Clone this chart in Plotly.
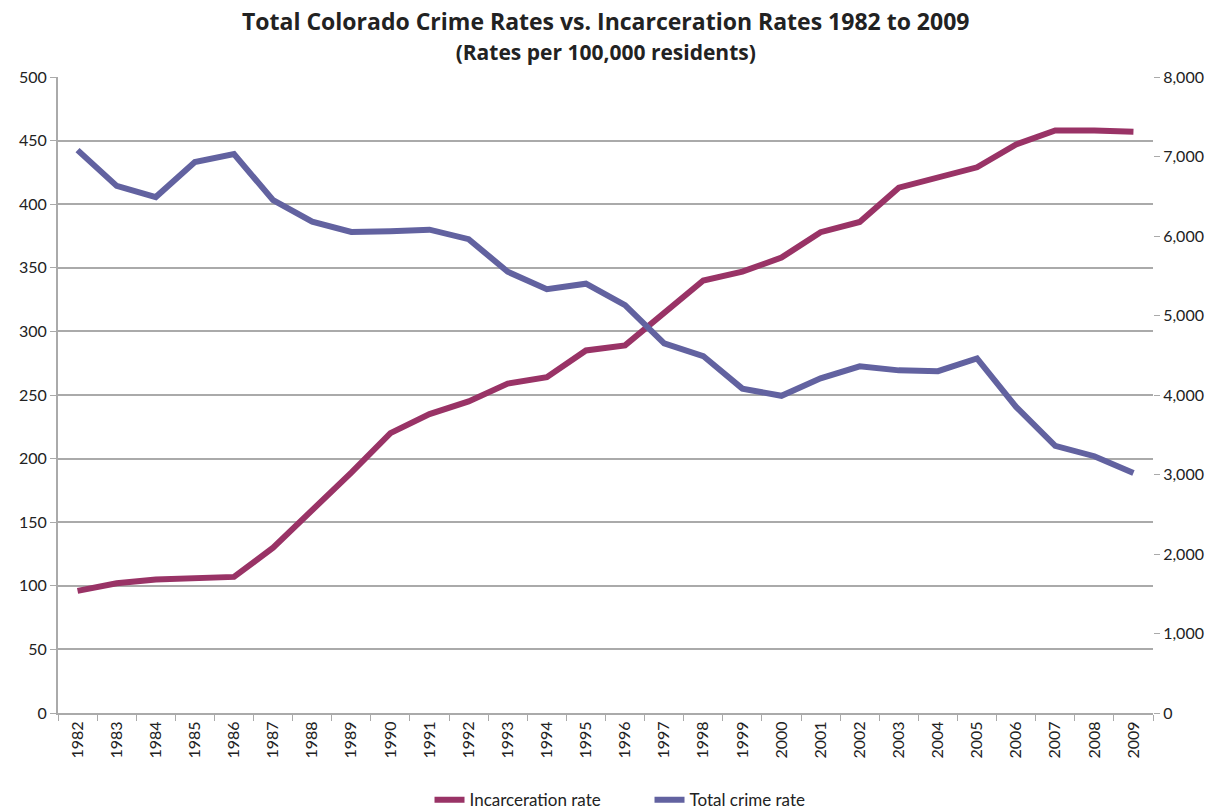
import plotly.graph_objects as go

years = [str(y) for y in range(1982, 2010)]
incarceration = [96, 102, 105, 106, 107, 130, 159, 189, 220, 235, 245, 259, 264, 285, 289, 314, 340, 347, 358, 378, 386, 413, 421, 429, 447, 458, 458, 457]
crime = [7080, 6630, 6490, 6930, 7030, 6450, 6180, 6050, 6060, 6080, 5960, 5550, 5330, 5400, 5130, 4650, 4490, 4080, 3990, 4210, 4360, 4310, 4300, 4460, 3850, 3360, 3230, 3020]

font = "Lato, Open Sans, sans-serif"
tfont = "Open Sans, Lato, sans-serif"
W, H = 1217, 809
fig = go.Figure()
fig.add_trace(go.Scatter(x=years, y=incarceration, name="Incarceration rate", mode="lines",
                         line=dict(color="#993366", width=6), yaxis="y"))
fig.add_trace(go.Scatter(x=years, y=crime, name="Total crime rate", mode="lines",
                         line=dict(color="#6262A0", width=6), yaxis="y2"))

fig.update_layout(
    width=W, height=H,
    margin=dict(l=58, r=64, t=77, b=96, autoexpand=False),
    plot_bgcolor="white", paper_bgcolor="white",
    font=dict(family=font, size=16, color="#222"),
    showlegend=True,
    legend=dict(orientation="h", x=0.5337, xanchor="center", xref="container",
                y=-0.137, yanchor="middle", yref="paper",
                entrywidth=175, entrywidthmode="pixels",
                font=dict(size=17), traceorder="normal"),
    xaxis=dict(type="category", range=[-0.5, 27.5], tickangle=-90, ticks="outside",
               tickson="boundaries", ticklen=6, tickcolor="#aaa", showline=True,
               linecolor="#aaa", linewidth=2, showgrid=False, tickfont=dict(size=16),
               automargin=False),
    yaxis=dict(range=[0, 500], dtick=50, showgrid=True, gridcolor="#aaa", gridwidth=2,
               showline=True, linecolor="#aaa", linewidth=2, ticks="outside", ticklen=6,
               tickcolor="#aaa", zeroline=False, tickfont=dict(size=16), automargin=False),
    yaxis2=dict(range=[0, 8000], dtick=1000, overlaying="y", side="right", showgrid=False,
                ticks="outside", ticklen=6, tickcolor="#aaa", tickformat=",",
                showline=False, zeroline=False, tickfont=dict(size=16), automargin=False),
)
fig.add_annotation(
    text=("<b><span style='font-size:23px'>Total Colorado Crime Rates vs. Incarceration Rates 1982 to 2009</span></b>"
          "<br><b><span style='font-size:21px'>(Rates per 100,000 residents)</span></b>"),
    xref="paper", yref="paper", x=0.5, y=1.0, yshift=42, showarrow=False,
    font=dict(size=23, family=tfont, color="#222"), xanchor="center", yanchor="middle")
fig.write_html("out.html", config={"displayModeBar": False},
               post_script="document.body.style.margin='0';document.body.style.overflow='hidden';")
